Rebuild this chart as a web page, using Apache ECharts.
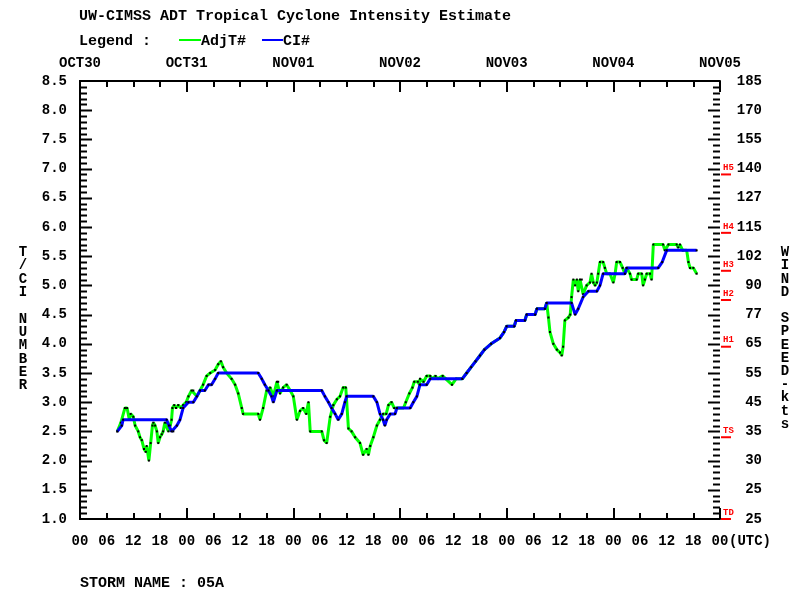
<!DOCTYPE html>
<html><head><meta charset="utf-8">
<script src="https://cdn.jsdelivr.net/npm/echarts@6/dist/echarts.min.js"></script>
<style>html,body{margin:0;padding:0;background:#fff}#c{width:800px;height:600px}</style>
</head><body><div id="c"></div>
<script>
// ---- data ----
const dateLabels = ['OCT30','OCT31','NOV01','NOV02','NOV03','NOV04','NOV05'];
const windLabels = ['25','25','30','35','45','55','65','77','90','102','115','127','140','155','170','185'];
const thresholdNames = ['TD','TS','H1','H2','H3','H4','H5'];
const thresholdCI = [1.0, 2.4, 3.95, 4.75, 5.25, 5.9, 6.9];

const ciHours = [8.4,9.4,9.7,19.5,20.0,20.6,21.0,21.8,22.5,23.2,24.4,25.5,26.3,27.0,28.1,28.9,29.6,30.4,31.1,40.1,40.9,41.6,42.4,43.1,43.5,44.3,54.4,55.1,55.9,56.6,57.4,58.1,58.9,59.6,60.0,66.0,66.8,67.5,68.2,68.6,69.0,69.8,70.9,71.3,74.3,75.0,75.8,76.5,78.0,78.8,86.0,87.0,88.0,89.0,90.0,91.0,92.5,94.5,95.4,96.0,97.7,98.1,100.1,100.5,102.4,102.8,104.6,105.0,110.6,111.4,112.1,113.2,114.4,116.3,117.0,117.7,122.6,123.0,130.1,131.0,132.0,138.75];
const ciValues = [2.5,2.6,2.7,2.7,2.6,2.5,2.5,2.6,2.7,2.9,3.0,3.0,3.1,3.2,3.2,3.3,3.3,3.4,3.5,3.5,3.4,3.3,3.2,3.1,3.0,3.2,3.2,3.1,3.0,2.9,2.8,2.7,2.8,3.0,3.1,3.1,3.0,2.8,2.7,2.6,2.7,2.8,2.8,2.9,2.9,3.0,3.1,3.3,3.3,3.4,3.4,3.5,3.6,3.7,3.8,3.9,4.0,4.1,4.2,4.3,4.3,4.4,4.4,4.5,4.5,4.6,4.6,4.7,4.7,4.5,4.6,4.8,4.9,4.9,5.0,5.2,5.2,5.3,5.3,5.4,5.6,5.6];

const adjHours = [8.4,9.2,10.1,10.6,11.1,11.4,12.0,12.4,13.1,13.5,13.9,14.4,14.8,15.0,15.5,15.9,16.3,16.5,16.9,17.3,17.6,18.0,18.4,18.7,19.1,19.5,19.9,20.3,20.6,20.8,21.2,21.6,22.1,22.7,23.2,23.9,24.4,25.1,25.5,26.3,27.0,27.7,28.5,29.3,30.4,31.1,31.7,32.2,33.0,34.1,34.9,35.6,36.4,36.7,40.1,40.5,41.2,42.0,42.8,43.5,44.3,44.6,45.0,45.7,46.5,47.3,48.0,48.8,49.5,50.2,50.9,51.4,51.8,54.4,54.9,55.5,56.3,57.0,57.8,58.5,59.2,59.8,60.4,61.1,61.9,63.0,63.7,64.5,64.9,65.3,66.0,66.8,67.5,68.2,68.9,69.4,70.1,70.7,72.8,73.3,74.1,74.8,75.2,76.0,76.4,76.5,77.3,78.0,78.8,79.2,80.0,80.4,81.6,82.3,83.7,84.6,86.0,87.0,88.0,89.0,90.0,91.0,92.5,94.5,95.4,96.0,97.7,98.1,100.1,100.5,102.4,102.8,104.6,105.0,105.4,105.75,106.5,107.3,108.0,108.4,108.7,109.1,109.9,110.3,110.6,111.0,111.4,111.8,112.1,112.5,112.9,113.2,114.0,114.75,115.1,115.5,115.9,116.3,116.6,117.0,117.7,118.1,118.5,119.25,120.0,120.4,120.75,121.5,122.1,122.6,123.0,123.4,123.75,124.1,125.25,125.6,126.4,126.7,127.1,127.5,128.25,128.6,129.0,131.2,131.6,132.0,132.4,134.25,134.6,135.0,135.6,136.5,136.9,137.25,138.0,138.75];
const adjValues = [2.5,2.65,2.9,2.9,2.7,2.8,2.75,2.6,2.5,2.4,2.35,2.2,2.15,2.25,2.0,2.3,2.6,2.65,2.6,2.5,2.3,2.4,2.45,2.5,2.65,2.65,2.5,2.6,2.7,2.9,2.95,2.9,2.95,2.9,2.95,3.0,3.1,3.2,3.2,3.1,3.2,3.3,3.45,3.5,3.55,3.65,3.7,3.6,3.5,3.4,3.3,3.15,2.9,2.8,2.8,2.7,2.9,3.2,3.25,3.1,3.35,3.35,3.15,3.25,3.3,3.2,3.1,2.7,2.85,2.9,2.8,3.0,2.5,2.5,2.35,2.3,2.75,2.95,3.05,3.1,3.25,3.25,2.55,2.5,2.4,2.3,2.1,2.2,2.1,2.25,2.4,2.6,2.7,2.8,2.8,2.95,3.0,2.9,2.9,3.0,3.15,3.25,3.35,3.35,3.3,3.4,3.35,3.45,3.45,3.4,3.45,3.4,3.45,3.4,3.3,3.4,3.4,3.5,3.6,3.7,3.8,3.9,4.0,4.1,4.2,4.3,4.3,4.4,4.4,4.5,4.5,4.6,4.6,4.7,4.45,4.2,4.0,3.9,3.85,3.8,3.95,4.4,4.45,4.5,4.8,5.1,5.0,5.1,4.9,5.1,5.1,4.85,5.0,5.05,5.2,5.05,5.0,5.05,5.2,5.4,5.4,5.3,5.2,5.2,5.05,5.2,5.4,5.4,5.3,5.2,5.3,5.3,5.2,5.1,5.1,5.2,5.2,5.0,5.1,5.2,5.2,5.1,5.7,5.7,5.6,5.6,5.7,5.7,5.65,5.7,5.6,5.6,5.4,5.3,5.3,5.2];

// ---- chart ----
const FONT = '"Liberation Mono", "DejaVu Sans Mono", monospace';
const txt = {fontFamily: FONT, fontWeight: 'bold', color: '#000'};
const axisLine = {show: true, lineStyle: {color: '#000', width: 2}};
const pad2 = v => String(Math.round(v) % 24).padStart(2, '0');

const chart = echarts.init(document.getElementById('c'), null, {renderer: 'canvas'});

const xBase = {type: 'value', min: 0, max: 144, splitLine: {show: false}};
const yBase = {type: 'value', min: 1, max: 8.5, interval: 0.5, splitLine: {show: false},
  axisLine: axisLine, axisTick: {show: false}};

chart.setOption({
  animation: false,
  backgroundColor: '#fff',
  grid: {left: 80, right: 80, top: 81, bottom: 81, containLabel: false},
  xAxis: [
    Object.assign({}, xBase, {position: 'bottom', interval: 6, axisLine: axisLine,
      axisTick: {show: true, inside: true, length: 6, lineStyle: {color: '#000', width: 2}},
      axisLabel: Object.assign({fontSize: 14, margin: 15, formatter: pad2}, txt)}),
    Object.assign({}, xBase, {position: 'bottom', interval: 24, axisLine: {show: false},
      axisTick: {show: true, inside: true, length: 11, lineStyle: {color: '#000', width: 2}},
      axisLabel: {show: false}}),
    Object.assign({}, xBase, {position: 'top', interval: 6, axisLine: axisLine,
      axisTick: {show: true, inside: true, length: 6, lineStyle: {color: '#000', width: 2}},
      axisLabel: {show: false}}),
    Object.assign({}, xBase, {position: 'top', interval: 24, axisLine: {show: false},
      axisTick: {show: true, inside: true, length: 11, lineStyle: {color: '#000', width: 2}},
      axisLabel: Object.assign({fontSize: 14, margin: 11, formatter: v => dateLabels[Math.round(v / 24)]}, txt)})
  ],
  yAxis: [
    Object.assign({}, yBase, {position: 'left',
      axisLabel: Object.assign({fontSize: 14, margin: 13, formatter: v => v.toFixed(1)}, txt)}),
    Object.assign({}, yBase, {position: 'right',
      axisLabel: Object.assign({fontSize: 14, margin: 42, align: 'right',
        formatter: v => windLabels[Math.round((v - 1) / 0.5)]}, txt)})
  ],
  series: [
    {name: 'AdjT#', type: 'line', xAxisIndex: 0, yAxisIndex: 0, z: 3,
      data: adjHours.map((h, i) => [h, adjValues[i]]),
      lineStyle: {color: '#00ff00', width: 3}, symbol: 'rect', symbolSize: 2,
      itemStyle: {color: '#000'}, showSymbol: true},
    {name: 'CI#', type: 'line', xAxisIndex: 0, yAxisIndex: 0, z: 4,
      data: ciHours.map((h, i) => [h, ciValues[i]]),
      lineStyle: {color: '#0000ff', width: 3}, symbol: 'rect', symbolSize: 2,
      itemStyle: {color: '#000'}, showSymbol: true}
  ]
});

// ---- annotations (text, legend, value-axis ticks, intensity markers) ----
const tstyle = (s, extra) => Object.assign({text: s, font: 'bold 15px ' + FONT, fill: '#000'}, extra || {});
const axLeft = chart.convertToPixel({xAxisIndex: 0}, 0);
const axRight = chart.convertToPixel({xAxisIndex: 0}, 144);
const g = [
  {type: 'text', x: 79, y: 16, style: tstyle('UW-CIMSS ADT Tropical Cyclone Intensity Estimate', {verticalAlign: 'middle'})},
  {type: 'text', x: 79, y: 41, style: tstyle('Legend :', {verticalAlign: 'middle'})},
  {type: 'line', shape: {x1: 179, y1: 40, x2: 201, y2: 40}, style: {stroke: '#00ff00', lineWidth: 2}},
  {type: 'text', x: 201, y: 41, style: tstyle('AdjT#', {verticalAlign: 'middle'})},
  {type: 'line', shape: {x1: 262, y1: 40, x2: 283, y2: 40}, style: {stroke: '#0000ff', lineWidth: 2}},
  {type: 'text', x: 283, y: 41, style: tstyle('CI#', {verticalAlign: 'middle'})},
  {type: 'text', x: 80, y: 583, style: tstyle('STORM NAME : 05A', {verticalAlign: 'middle'})},
  {type: 'text', x: axRight + 9, y: 541, style: tstyle('(UTC)', {verticalAlign: 'middle', font: 'bold 14px ' + FONT})},
  {type: 'text', x: 23, y: 246, style: {text: 'T\n/\nC\nI\n\nN\nU\nM\nB\nE\nR', font: 'bold 14px ' + FONT,
    fill: '#000', align: 'center', verticalAlign: 'top', lineHeight: 13.3}},
  {type: 'text', x: 785, y: 246, style: {text: 'W\nI\nN\nD\n\nS\nP\nE\nE\nD\n-\nk\nt\ns', font: 'bold 14px ' + FONT,
    fill: '#000', align: 'center', verticalAlign: 'top', lineHeight: 13.2}}
];
// value-axis ticks every 0.1 (long at each 0.5), pointing inward on both sides
for (let i = 1; i < 75; i++) {
  const len = (i % 5 === 0) ? 12 : 7;
  const y = Math.round(chart.convertToPixel({yAxisIndex: 0}, 1 + i / 10)) + 0.5;
  g.push({type: 'line', shape: {x1: axLeft, y1: y, x2: axLeft + len, y2: y}, style: {stroke: '#000', lineWidth: 2}});
  g.push({type: 'line', shape: {x1: axRight - len, y1: y, x2: axRight, y2: y}, style: {stroke: '#000', lineWidth: 2}});
}
thresholdCI.forEach((v, i) => {
  const y = chart.convertToPixel({yAxisIndex: 0}, v);
  g.push({type: 'line', shape: {x1: axRight + 1, y1: y, x2: axRight + 11, y2: y}, style: {stroke: '#ff0000', lineWidth: 2}});
  g.push({type: 'text', x: axRight + 3, y: y - 2, style: {text: thresholdNames[i], font: 'bold 9px ' + FONT,
    fill: '#ff0000', verticalAlign: 'bottom'}});
});
chart.setOption({graphic: g});
</script>
</body></html>
